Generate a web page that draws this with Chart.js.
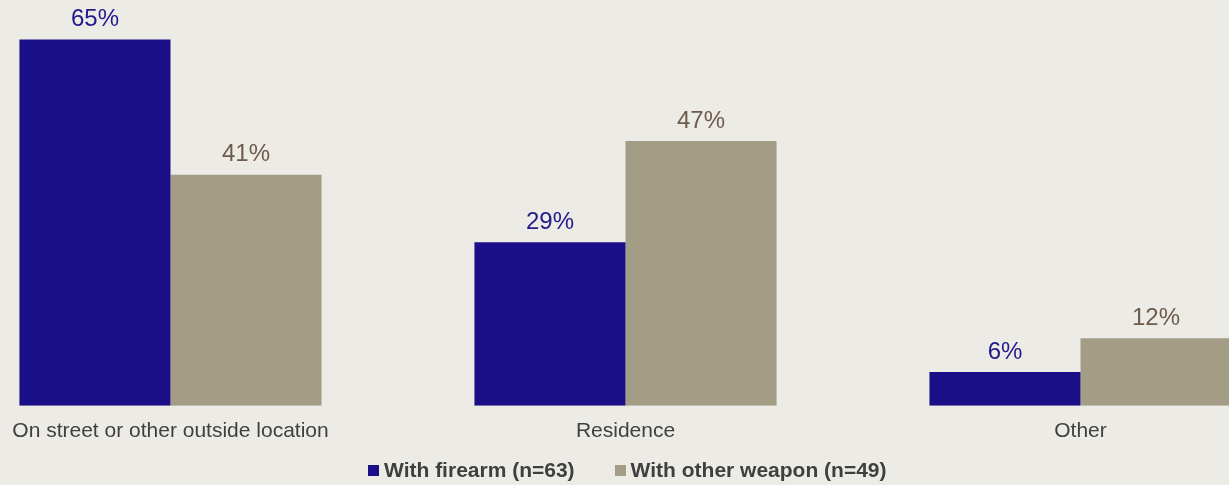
<!DOCTYPE html>
<html>
<head>
<meta charset="utf-8">
<script src="https://cdn.jsdelivr.net/npm/chart.js@4"></script>
<style>
  html, body { margin: 0; padding: 0; background: #ECEBE6; }
  #wrap { position: relative; width: 1229px; height: 485px; overflow: hidden; background: #ECEBE6; }
  #chart { position: absolute; left: -57px; top: 0; }
  #legend {
    position: absolute; left: 368px; top: 458px;
    display: flex; align-items: center;
    font: bold 21px "Liberation Sans", Arial, sans-serif; color: #3F3F3F;
  }
  #legend .item { display: flex; align-items: center; margin-right: 40px; }
  #legend .box { width: 11px; height: 11px; margin-right: 5px; }
</style>
</head>
<body>
<div id="wrap">
  <canvas id="chart" width="1365" height="485"></canvas>
  <div id="legend"></div>
</div>
<script>
const categories = ['On street or other outside location', 'Residence', 'Other'];
const firearmValues = [65, 29, 6];
const otherWeaponValues = [41, 47, 12];
const seriesLabels = ['With firearm (n=63)', 'With other weapon (n=49)'];
const barColors = ['#1A0F87', '#A29D84'];
const valueColors = ['#221A8A', '#6E5B4E'];

const FONT = '"Liberation Sans", Arial, sans-serif';

// draws the percentage above each bar
const valueLabels = {
  id: 'valueLabels',
  afterDatasetsDraw(chart) {
    const ctx = chart.ctx;
    ctx.save();
    ctx.font = '24px ' + FONT;
    ctx.textAlign = 'center';
    ctx.textBaseline = 'bottom';
    chart.data.datasets.forEach((ds, i) => {
      const meta = chart.getDatasetMeta(i);
      ctx.fillStyle = valueColors[i];
      meta.data.forEach((bar, j) => {
        ctx.fillText(ds.data[j] + '%', bar.x, bar.y - 8);
      });
    });
    ctx.restore();
  }
};

const chart = new Chart(document.getElementById('chart'), {
  type: 'bar',
  data: {
    labels: categories,
    datasets: [
      { label: seriesLabels[0], data: firearmValues, backgroundColor: barColors[0] },
      { label: seriesLabels[1], data: otherWeaponValues, backgroundColor: barColors[1] }
    ]
  },
  options: {
    responsive: false,
    animation: false,
    layout: { padding: { top: 0, bottom: 36 } },
    datasets: { bar: { categoryPercentage: 0.664, barPercentage: 1.0 } },
    scales: {
      x: {
        grid: { display: false },
        border: { display: false },
        ticks: { color: '#404040', font: { family: FONT, size: 21 }, padding: 5 }
      },
      y: { display: false, min: 0, max: 72 }
    },
    plugins: {
      legend: { display: false },
      tooltip: { enabled: false }
    }
  },
  plugins: [valueLabels]
});

// legend built from the dataset list
const legendEl = document.getElementById('legend');
chart.data.datasets.forEach((ds, i) => {
  const item = document.createElement('div');
  item.className = 'item';
  item.innerHTML = `<span class="box" style="background:${barColors[i]}"></span><span>${ds.label}</span>`;
  legendEl.appendChild(item);
});
</script>
</body>
</html>
